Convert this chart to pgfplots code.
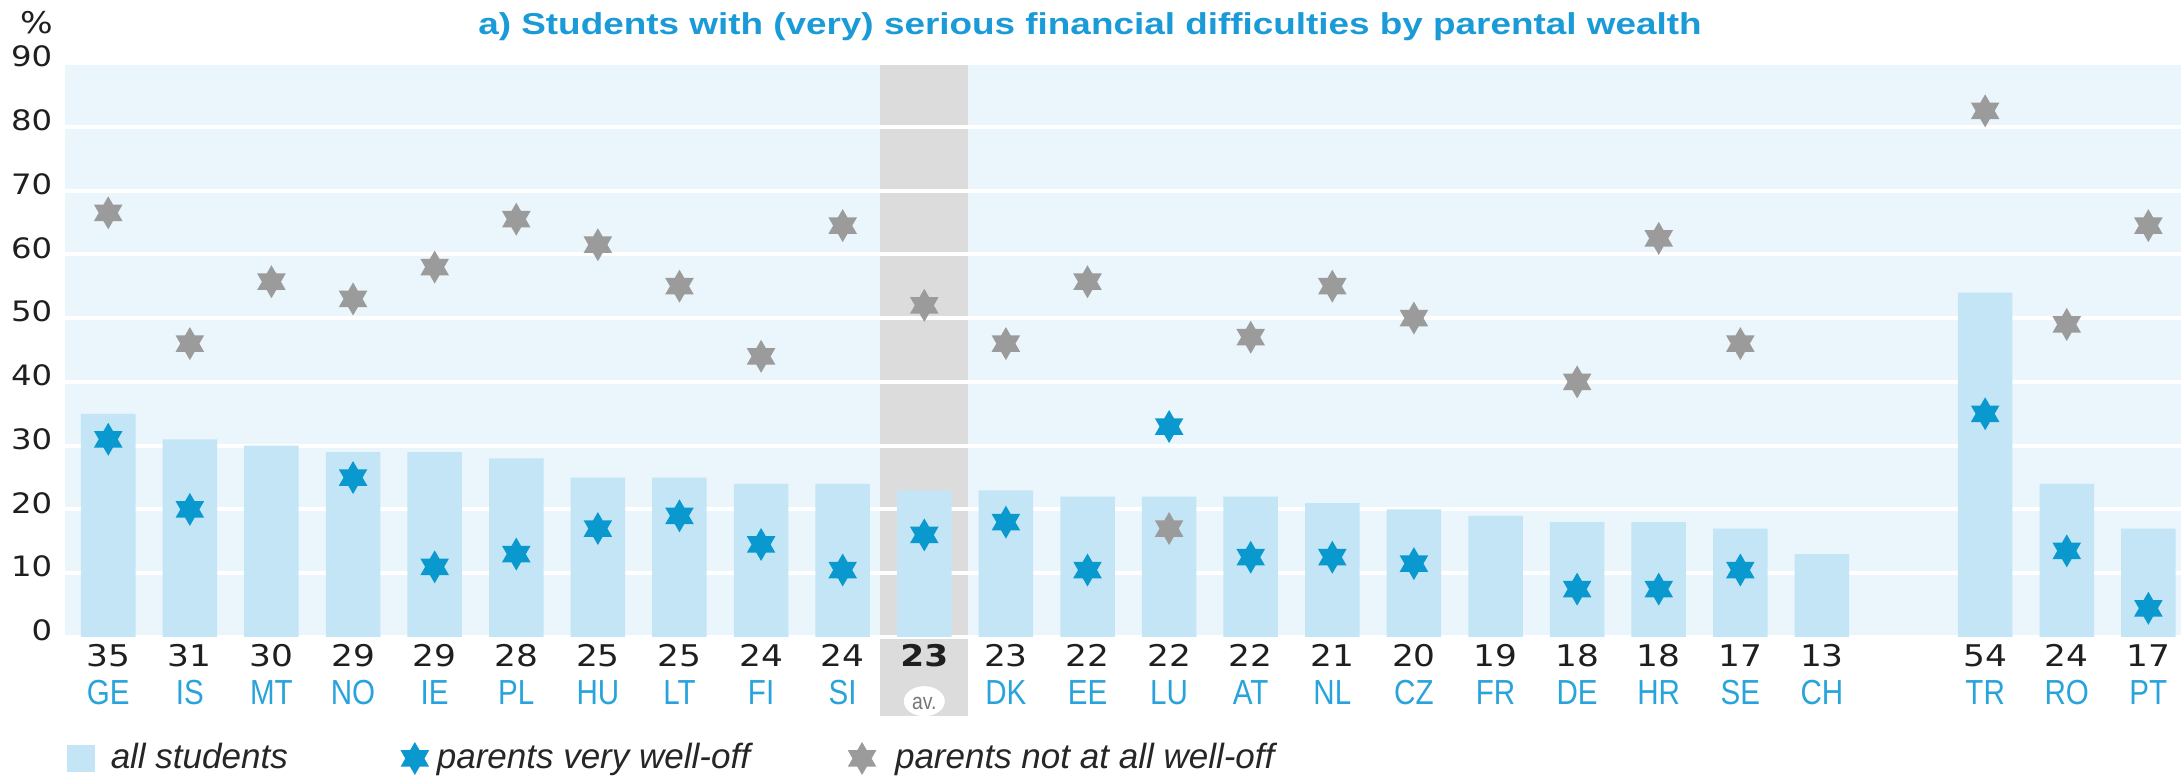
\documentclass[border=0pt]{standalone}
\usepackage{fontspec}
\setmainfont{Liberation Sans}
\newfontfamily\numfont{DejaVu Sans}[FakeStretch=1.15]
\newfontfamily\labfont{Liberation Sans}[FakeStretch=0.85]
\newfontfamily\titlefont{Liberation Sans}[FakeStretch=1.22]
\usepackage{pgfplots}
\pgfplotsset{compat=1.18}
\usetikzlibrary{calc}

\definecolor{bgblue}{HTML}{EAF5FC}
\definecolor{barblue}{HTML}{C4E5F6}
\definecolor{starblue}{HTML}{0A99CF}
\definecolor{stargrey}{HTML}{9B9B9B}
\definecolor{bandgrey}{HTML}{DCDCDC}
\definecolor{titleblue}{HTML}{1A9AD7}
\definecolor{labblue}{HTML}{29A3DB}
\definecolor{avgrey}{HTML}{777777}

\pgfdeclareplotmark{hexstar}{%
  \pgfpathmoveto{\pgfpointpolar{90}{\pgfplotmarksize}}%
  \pgfpathlineto{\pgfpointpolar{210}{\pgfplotmarksize}}%
  \pgfpathlineto{\pgfpointpolar{330}{\pgfplotmarksize}}%
  \pgfpathclose
  \pgfpathmoveto{\pgfpointpolar{270}{\pgfplotmarksize}}%
  \pgfpathlineto{\pgfpointpolar{30}{\pgfplotmarksize}}%
  \pgfpathlineto{\pgfpointpolar{150}{\pgfplotmarksize}}%
  \pgfpathclose
  \pgfusepathqfill}

\newcommand{\lab}[2]{{\fontsize{8.5}{10.8}\selectfont\begin{tabular}{@{}c@{}}\numfont\color{black!88}#1\\\labfont\fontsize{9.9}{10.8}\selectfont\color{labblue}#2\end{tabular}}}
\newcommand{\avlab}{\lab{\textbf{23}}{\tikz[baseline=-0.3mm]{\fill[white] (0,0) ellipse[x radius=2.05mm, y radius=1.5mm]; \node[anchor=center, text=avgrey, inner sep=0pt, yshift=0pt, xshift=0pt, font=\labfont\fontsize{6.5}{7}\selectfont] at (0,0) {av.};}}}

\begin{document}
\begin{tikzpicture}
\begin{axis}[
  scale only axis, width=211.6mm, height=57.4mm,
  xmin=-0.53, xmax=25.4, ymin=0, ymax=90,
  clip=false, set layers,
  axis line style={draw=none},
  major tick length=0pt,
  ymajorgrids, grid style={white, line width=0.4mm},
  ytick={0,10,20,30,40,50,60,70,80,90},
  yticklabel style={font=\numfont\fontsize{8}{9}\selectfont, text=black!88, inner sep=0pt, xshift=-1.2mm, yshift=0.65mm},
  /pgf/number format/assume math mode=true,
  xtick={0,1,2,3,4,5,6,7,8,9,10,11,12,13,14,15,16,17,18,19,20,21,23,24,25},
  xticklabels={{\lab{35}{GE}},{\lab{31}{IS}},{\lab{30}{MT}},{\lab{29}{NO}},{\lab{29}{IE}},{\lab{28}{PL}},{\lab{25}{HU}},{\lab{25}{LT}},{\lab{24}{FI}},{\lab{24}{SI}},{\avlab},{\lab{23}{DK}},{\lab{22}{EE}},{\lab{22}{LU}},{\lab{22}{AT}},{\lab{21}{NL}},{\lab{20}{CZ}},{\lab{19}{FR}},{\lab{18}{DE}},{\lab{18}{HR}},{\lab{17}{SE}},{\lab{13}{CH}},{\lab{54}{TR}},{\lab{24}{RO}},{\lab{17}{PT}}},
  xticklabel style={anchor=north, inner sep=0pt, yshift=-0.2mm},
  title={a) Students with (very) serious financial difficulties by parental wealth},
  title style={at={(0.4844,1)}, anchor=center, yshift=3.6mm-6pt, inner sep=0pt, font=\titlefont\bfseries\fontsize{8.6}{10}\selectfont, text=titleblue},
  legend columns=3,
  legend style={at={(0.0005,-0.2117)}, anchor=west, draw=none, fill=none, inner sep=0pt,
    nodes={inner sep=0pt}, cells={anchor=west},
    font=\itshape\fontsize{9.96}{11}\selectfont, text=black!85,
    /tikz/column 2/.style={column sep=10.8mm},
    /tikz/column 4/.style={column sep=9.7mm}},
]
\begin{pgfonlayer}{axis background}
\fill[bgblue] (rel axis cs:0,0) rectangle (rel axis cs:1,1);
\fill[bandgrey] (axis cs:9.46,-12.4) rectangle (axis cs:10.54,90);
\end{pgfonlayer}

\addplot[ybar, bar width=0.668, fill=barblue, draw=none,
  legend image code/.code={\fill[barblue] (0mm,-1.35mm) rectangle (2.8mm,1.35mm); \path[draw=none,fill=none] (0,-0.1mm) rectangle (4.4mm,0.1mm);}]
coordinates {(0,35) (1,31) (2,30) (3,29) (4,29) (5,28) (6,25) (7,25) (8,24) (9,24) (10,23) (11,23) (12,22) (13,22) (14,22) (15,21) (16,20) (17,19) (18,18) (19,18) (20,17) (21,13) (23,54) (24,24) (25,17)};
\addlegendentry{all students}

\addplot[only marks, mark=hexstar, mark size=1.65mm, color=starblue,
  legend image code/.code={\path[draw=none,fill=none] (0,-0.1mm) rectangle (4.1mm,0.1mm); \begin{scope}[shift={(1.9mm,0)}]\pgfsetfillcolor{starblue}\pgfsetplotmarksize{1.65mm}\pgfuseplotmark{hexstar}\end{scope}}]
coordinates {(0,31) (1,20) (3,25) (4,11) (5,13) (6,17) (7,19) (8,14.5) (9,10.5) (10,16) (11,18) (12,10.5) (13,33) (14,12.5) (15,12.5) (16,11.5) (18,7.5) (19,7.5) (20,10.5) (23,35) (24,13.5) (25,4.5)};
\addlegendentry{parents very well-off}

\addplot[only marks, mark=hexstar, mark size=1.65mm, color=stargrey,
  legend image code/.code={\path[draw=none,fill=none] (0,-0.1mm) rectangle (4.8mm,0.1mm); \begin{scope}[shift={(1.5mm,0)}]\pgfsetfillcolor{stargrey}\pgfsetplotmarksize{1.65mm}\pgfuseplotmark{hexstar}\end{scope}}]
coordinates {(0,66.5) (1,46) (2,55.7) (3,53) (4,58) (5,65.5) (6,61.5) (7,55) (8,44) (9,64.5) (10,52) (11,46) (12,55.7) (13,17) (14,47) (15,55) (16,50) (18,40) (19,62.5) (20,46) (23,82.5) (24,49) (25,64.5)};
\addlegendentry{parents not at all well-off}

\node[font=\numfont\fontsize{8.5}{10}\selectfont, text=black!88] at ($(rel axis cs:0,1)+(-2.8mm,4.0mm)$) {\%};
\end{axis}
\pgfresetboundingbox
\path ($(current axis.south west)+(-6.5mm,-13.9mm)$) rectangle ($(current axis.north east)+(0,6.3mm)$);
\end{tikzpicture}
\end{document}
